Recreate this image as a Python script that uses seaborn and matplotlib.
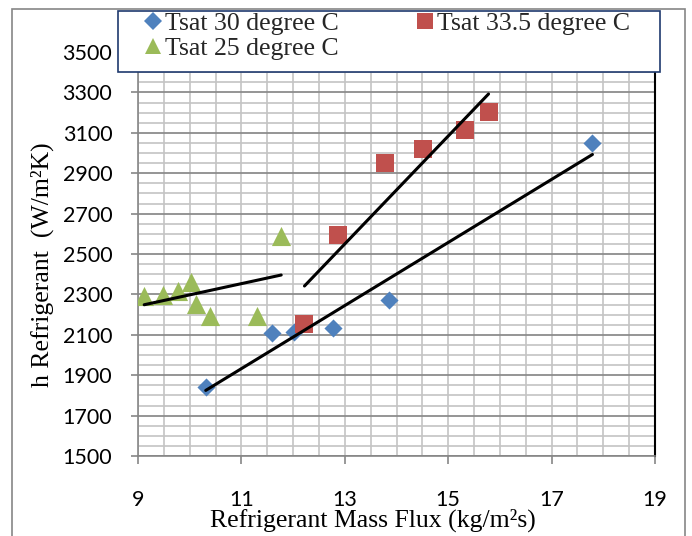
import matplotlib
matplotlib.use("Agg")
import matplotlib.pyplot as plt
import seaborn as sns
import pandas as pd
from matplotlib.lines import Line2D
from matplotlib.patches import Rectangle
from matplotlib.ticker import MultipleLocator, FixedLocator

sns.set_theme(style="white")
plt.rcParams['font.family'] = ['Lato', 'DejaVu Sans']

series_names = ["Tsat 30 degree C", "Tsat 33.5 degree C", "Tsat 25 degree C"]
colors = ["#4F81BD", "#C0504D", "#9BBB59"]

t30_flux = [10.31, 11.59, 12.01, 12.77, 13.86, 17.79]
t30_h = [1843, 2108, 2115, 2133, 2273, 3048]

t335_flux = [12.22, 12.87, 13.78, 14.51, 15.33, 15.78]
t335_h = [2153, 2594, 2950, 3020, 3112, 3203]

t25_flux = [9.12, 9.49, 9.78, 10.02, 10.13, 10.39, 11.31, 11.77]
t25_h = [2291, 2296, 2317, 2359, 2252, 2194, 2194, 2590]

x_ticks = [9, 11, 13, 15, 17, 19]
y_ticks = [1500, 1700, 1900, 2100, 2300, 2500, 2700, 2900, 3100, 3300, 3500]

x_label = "Refrigerant Mass Flux (kg/m²s)"
y_label = "h Refrigerant  (W/m²K)"

W, H = 692, 536
fig = plt.figure(figsize=(W / 100, H / 100), dpi=100)
ax = fig.add_axes([138 / W, 80 / H, 517 / W, 404 / H])

serif = 'Liberation Serif'

data = [
    (t30_flux, t30_h, 'D', 85),
    (t335_flux, t335_h, 's', 185),
    (t25_flux, t25_h, '^', 190),
]
for (xs, ys, mk, sz), col in zip(data, colors):
    sns.scatterplot(x=xs, y=ys, marker=mk, s=sz, color=col, linewidth=0,
                    ax=ax, zorder=3, legend=False)
for xs, ys, _, _ in data:
    sns.regplot(x=xs, y=ys, scatter=False, ci=None, truncate=True,
                color='black', line_kws={'lw': 2.2, 'zorder': 4}, ax=ax)

ax.set_xlim(x_ticks[0], x_ticks[-1])
ax.set_ylim(y_ticks[0], y_ticks[-1])
ax.xaxis.set_major_locator(FixedLocator(x_ticks))
ax.xaxis.set_minor_locator(MultipleLocator(0.5))
ax.yaxis.set_major_locator(FixedLocator(y_ticks))
ax.yaxis.set_minor_locator(MultipleLocator(50))
ax.set_xticklabels([str(t) for t in x_ticks])
ax.set_yticklabels([str(t) for t in y_ticks])

ax.set_axisbelow(True)
ax.grid(which='major', axis='y', color='#8c8c8c', lw=1.3)
ax.grid(which='minor', axis='y', color='#c4c4c4', lw=1.2)
ax.grid(which='both', axis='x', color='#c4c4c4', lw=1.2)

ax.tick_params(which='minor', length=0)
ax.tick_params(axis='y', which='major', direction='out', length=5, width=1.2,
               color='#868686', pad=13.5, labelsize=15.5, labelcolor='black', left=True)
ax.tick_params(axis='x', which='major', direction='out', length=6, width=1.2,
               color='#868686', pad=18.5, labelsize=15.5, labelcolor='black', bottom=True)

for s in ['left', 'bottom']:
    ax.spines[s].set_color('#868686')
    ax.spines[s].set_linewidth(1.2)
ax.spines['right'].set_color('black')
ax.spines['right'].set_linewidth(1.5)
ax.spines['top'].set_visible(False)

ax.set_xlabel(x_label, fontfamily=serif, fontsize=18.5, color='black')
ax.set_ylabel(y_label, fontfamily=serif, fontsize=18.5, color='black')
ax.xaxis.set_label_coords(0.4545, -0.131)
ax.yaxis.set_label_coords(-0.163, 0.473)

# outer chart border
fig.patches.append(Rectangle((12 / W, -0.05), (685 - 12) / W, 1 - 9 / H + 0.05,
                             transform=fig.transFigure, fill=False,
                             edgecolor='#868686', lw=1.2, zorder=1))
# legend box
fig.patches.append(Rectangle((118.3 / W, 1 - 72 / H), (660 - 118.3) / W, 61 / H,
                             transform=fig.transFigure, facecolor='white',
                             edgecolor='#1F3A6E', lw=1.2, zorder=2))

handles = [
    Line2D([], [], marker='D', color=colors[0], ls='none', ms=9, mew=0),
    Line2D([], [], marker='^', color=colors[2], ls='none', ms=12, mew=0),
    Line2D([], [], marker='s', color=colors[1], ls='none', ms=11, mew=0),
]
labels = [series_names[0], series_names[2], series_names[1]]
fig.legend(handles, labels, ncol=2, loc='upper left',
           bbox_to_anchor=(142.4 / W, 1 - 12.3 / H), frameon=False,
           prop={'family': serif, 'size': 18.5}, handlelength=0.8,
           handletextpad=0.08, columnspacing=2.95, labelspacing=0.05,
           borderpad=0, borderaxespad=0)

fig.savefig("out.png", dpi=100)
